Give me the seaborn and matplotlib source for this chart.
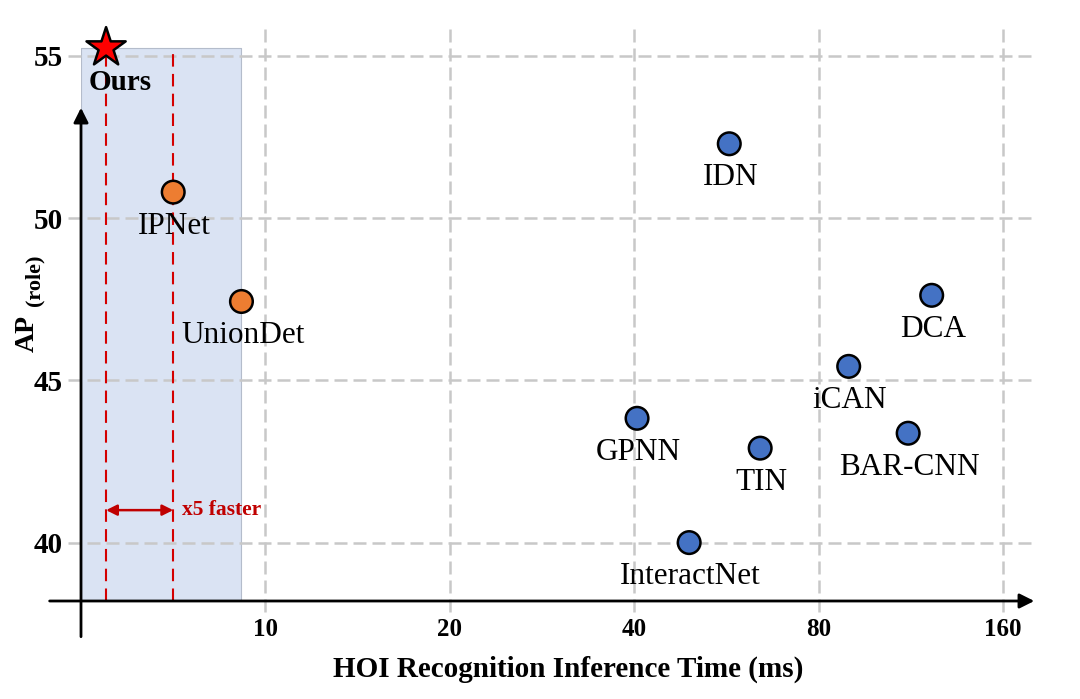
import numpy as np
import pandas as pd
import seaborn as sns
import matplotlib.pyplot as plt

# data
names = ["Ours", "IPNet", "UnionDet", "IDN", "DCA", "iCAN", "GPNN", "TIN", "BAR-CNN", "InteractNet"]
groups = ["ours", "one-stage", "one-stage", "two-stage", "two-stage", "two-stage",
          "two-stage", "two-stage", "two-stage", "two-stage"]
times = [1.36, 5.0, 8.7, 60.6, 129.0, 93.0, 40.6, 67.3, 118.8, 51.9]
ap_role = [55.25, 50.8, 47.43, 52.29, 47.62, 45.43, 43.83, 42.91, 43.37, 40.0]
xticks = [10, 20, 40, 80, 160]
yticks = [40, 45, 50, 55]

data = pd.DataFrame({"name": names, "group": groups, "time": times, "ap": ap_role})

# x axis: equal spacing between 0, 10, 20, 40, 80, 160
knots = np.array([-10, 0, 10, 20, 40, 80, 160, 320], dtype=float)
steps = np.arange(len(knots), dtype=float) - 1


def fwd(x):
    return np.interp(x, knots, steps)


def inv(p):
    return np.interp(p, steps, knots)


sns.set_theme(style="white")
plt.rcParams["font.family"] = ["Liberation Serif", "DejaVu Serif"]
plt.rcParams["text.color"] = "black"
plt.rcParams["axes.labelcolor"] = "black"
plt.rcParams["xtick.color"] = "black"
plt.rcParams["ytick.color"] = "black"

fig = plt.figure(figsize=(10.8, 6.99), dpi=100)
ax = fig.add_axes([0.075, 0.1402, 0.888, 0.831])

colors = {"ours": "#ff0000", "one-stage": "#ed7d31", "two-stage": "#4472c4"}
sns.scatterplot(data=data, x="time", y="ap", hue="group", style="group", size="group",
                palette=colors, markers={"ours": "*", "one-stage": "o", "two-stage": "o"},
                sizes={"ours": 880, "one-stage": 265, "two-stage": 265},
                edgecolor="black", linewidth=1.8, legend=False, zorder=5, clip_on=False, ax=ax)

ax.set_xscale("function", functions=(fwd, inv))
ax.set_xlim(0, 192)
ax.set_ylim(38.2, 56.1)
for s in ax.spines.values():
    s.set_visible(False)

ours_t, ours_ap = times[0], ap_role[0]
ipnet_t = times[1]
union_t = times[2]

# shaded region
ax.fill_between([0, union_t], 38.2, ours_ap, color="#dae3f3", edgecolor="#b4bccb",
                lw=0.8, zorder=1)

# grid
grid_kw = dict(colors="#c8c8c8", linewidth=1.8, linestyles=(0, (5.2, 2.4)), zorder=2, clip_on=False)
ax.vlines(xticks, 37.86, 55.9, **grid_kw)
ax.hlines(yticks, -0.7, 187, **grid_kw)

# red dashed guides
ax.vlines([ours_t, ipnet_t], 38.2, ours_ap, colors="#d40000", linewidth=1.5,
          linestyles=(0, (6, 3.5)), zorder=3)
ax.annotate("", xy=(ours_t, 41.0), xytext=(ipnet_t, 41.0),
            arrowprops=dict(arrowstyle="<|-|>", color="#c00000", lw=1.8,
                            shrinkA=0, shrinkB=0, mutation_scale=16), zorder=4)
ax.annotate("x5 faster", xy=(ipnet_t, 41.0), xytext=(6, 0), textcoords="offset points",
            ha="left", va="center", color="#c00000", fontsize=15.5, fontweight="bold")

# axis arrows
ax.annotate("", xy=(187, 38.2), xytext=(-1.7, 38.2), annotation_clip=False,
            arrowprops=dict(arrowstyle="-|>", color="black", lw=2, shrinkA=0, shrinkB=0,
                            mutation_scale=22), zorder=4)
ax.annotate("", xy=(0, 53.4), xytext=(0, 37.1), annotation_clip=False,
            arrowprops=dict(arrowstyle="-|>", color="black", lw=2, shrinkA=0, shrinkB=0,
                            mutation_scale=22), zorder=4)

# point labels
for n, t, a in zip(names, times, ap_role):
    if n == "Ours":
        ax.annotate(n, (t, a), xytext=(10, -25), textcoords="offset points", ha="center",
                    va="center", fontsize=21, fontweight="bold", zorder=6)
    else:
        ax.annotate(n, (t, a), xytext=(1, -24.5), textcoords="offset points", ha="center",
                    va="center", fontsize=22.5, zorder=6)

ax.set_xticks(xticks)
ax.set_xticklabels([str(v) for v in xticks], fontsize=18, fontweight="bold")
ax.set_yticks(yticks)
ax.set_yticklabels([str(v) for v in yticks], fontsize=21, fontweight="bold")
ax.tick_params(axis="x", length=0, pad=12)
ax.tick_params(axis="y", length=0, pad=13)
ax.xaxis.set_minor_locator(plt.NullLocator())

ax.set_xlabel("HOI Recognition Inference Time (ms)", fontsize=21, fontweight="bold", labelpad=10)
ax.xaxis.set_label_coords(0.508, -0.094)
ax.set_ylabel("")
fig.text(0.025, 0.5236, "AP", rotation=90, ha="center", va="center", fontsize=20, fontweight="bold")
fig.text(0.0315, 0.5985, "(role)", rotation=90, ha="center", va="center", fontsize=16, fontweight="bold")

fig.savefig("out.png", dpi=100)
